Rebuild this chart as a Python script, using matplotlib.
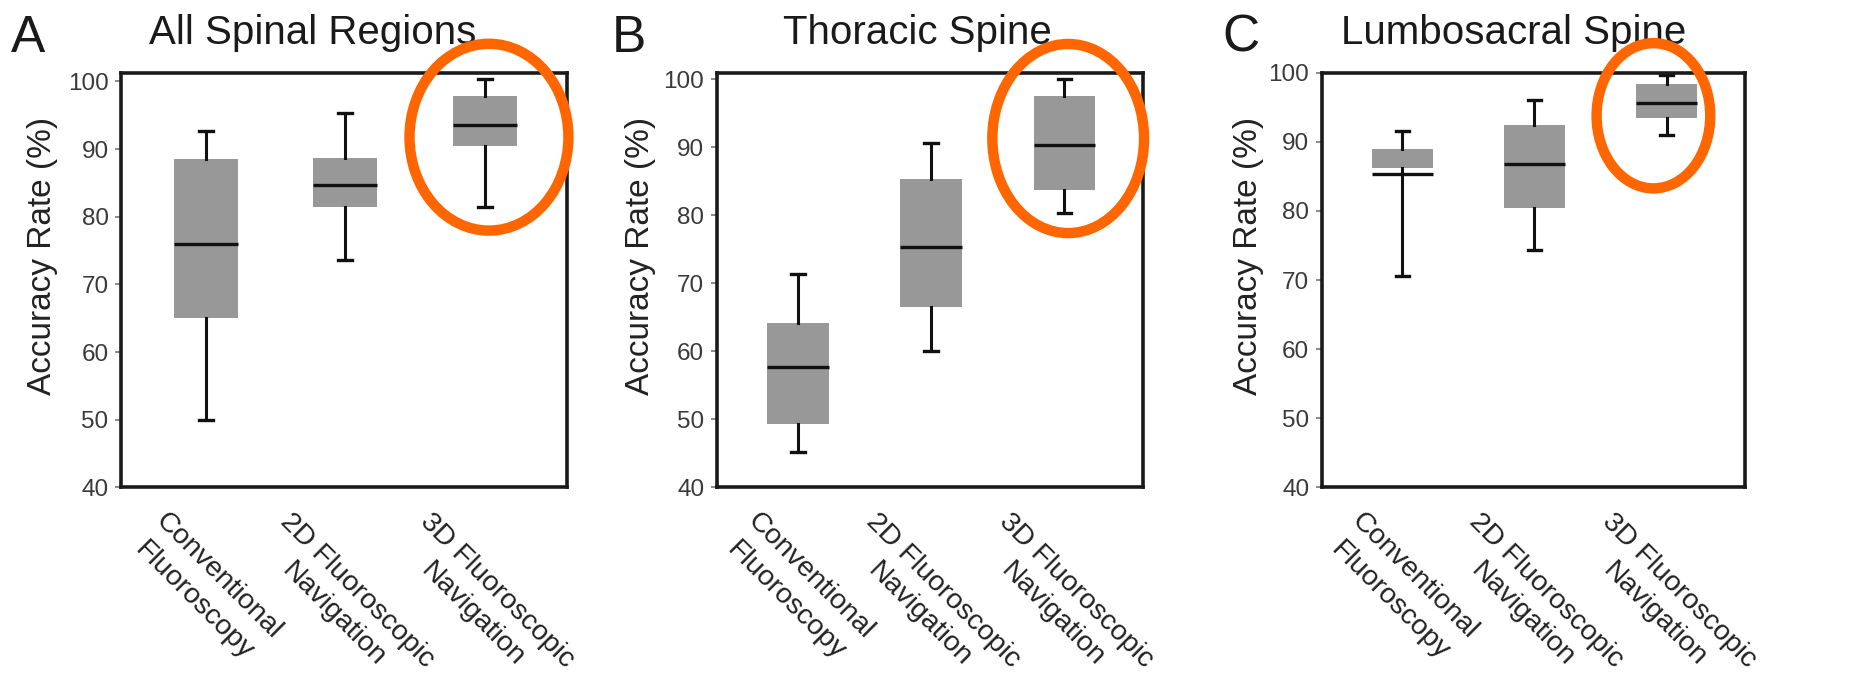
import matplotlib
matplotlib.use("Agg")
import matplotlib.pyplot as plt
from matplotlib.patches import Ellipse

plt.rcParams['font.family'] = ['Liberation Sans', 'DejaVu Sans']

# categories
groups = ["Conventional\nFluoroscopy", "2D Fluoroscopic\nNavigation", "3D Fluoroscopic\nNavigation"]
titles = ["All Spinal Regions", "Thoracic Spine", "Lumbosacral Spine"]
letters = ["A", "B", "C"]
yticks = [40, 50, 60, 70, 80, 90, 100]

# box statistics (accuracy rate, %)
all_whislo = [49.9, 73.6, 81.4]
all_q1 = [65.0, 81.5, 90.4]
all_med = [75.9, 84.7, 93.5]
all_q3 = [88.5, 88.7, 97.8]
all_whishi = [92.6, 95.3, 100.4]

tho_whislo = [45.2, 60.0, 80.3]
tho_q1 = [49.4, 66.5, 83.7]
tho_med = [57.7, 75.4, 90.3]
tho_q3 = [64.2, 85.4, 97.5]
tho_whishi = [71.4, 90.6, 100.0]

lum_whislo = [70.6, 74.4, 91.0]
lum_q1 = [86.2, 80.4, 93.4]
lum_med = [85.3, 86.8, 95.6]
lum_q3 = [88.9, 92.4, 98.4]
lum_whishi = [91.5, 96.0, 99.6]

panels = [
    (all_whislo, all_q1, all_med, all_q3, all_whishi),
    (tho_whislo, tho_q1, tho_med, tho_q3, tho_whishi),
    (lum_whislo, lum_q1, lum_med, lum_q3, lum_whishi),
]

fig = plt.figure(figsize=(18.56, 6.78), dpi=100)

# axes rectangles (figure fractions)
rects = [[0.0652, 0.281, 0.2403, 0.612],
         [0.3862, 0.281, 0.2295, 0.612],
         [0.7121, 0.281, 0.2279, 0.612]]
ytops = [101.3, 101.0, 100.0]
title_x = [0.429, 0.471, 0.455]
ylab_x = [-0.141, -0.142, -0.136]
letter_x = [11, 612, 1222]
# highlight ellipses: center x, center y, width, height (data units)
rings = [(3.03, 91.75, 1.14, 27.6), (3.03, 91.3, 1.14, 27.8), (2.9, 93.75, 0.86, 21.0)]

for i, (wlo, q1, med, q3, whi) in enumerate(panels):
    ax = fig.add_axes(rects[i])
    stats = []
    for j in range(len(groups)):
        stats.append({'whislo': wlo[j], 'q1': q1[j], 'med': med[j],
                      'q3': q3[j], 'whishi': whi[j], 'fliers': []})
    ax.bxp(stats, positions=[1, 2, 3], widths=0.46, capwidths=0.1,
           patch_artist=True, showfliers=False,
           boxprops=dict(facecolor='#989898', edgecolor='none', linewidth=0),
           medianprops=dict(color='#111111', linewidth=2.4),
           whiskerprops=dict(color='#111111', linewidth=2.2),
           capprops=dict(color='#111111', linewidth=2.4))
    ax.set_xlim(0.39, 3.59)
    ax.set_ylim(40, ytops[i])
    ax.set_yticks(yticks)
    ax.tick_params(axis='y', direction='out', length=4, width=1.2, color='#777777',
                   labelsize=17.5, labelcolor='#3a3a3a', pad=5)
    ax.set_xticks([1, 2, 3])
    ax.set_xticklabels(groups, rotation=-45, ha='center', va='top',
                       multialignment='center', linespacing=1.4)
    ax.tick_params(axis='x', length=0, labelsize=20.5, labelcolor='#222222', pad=15)
    for sp in ax.spines.values():
        sp.set_linewidth(2.6)
        sp.set_color('#1a1a1a')
    ax.set_ylabel("Accuracy Rate (%)", fontsize=24, color='#222222')
    ax.yaxis.set_label_coords(ylab_x[i], 0.557)
    ax.text(title_x[i], 1.068, titles[i], transform=ax.transAxes, ha='center',
            va='baseline', fontsize=29, color='#1a1a1a')
    fig.text(letter_x[i] / 1856, 1 - 52 / 678, letters[i], fontsize=37,
             color='#1a1a1a', ha='left', va='baseline')
    cx, cy, w, h = rings[i]
    ax.add_patch(Ellipse((cx, cy), w, h, fill=False, edgecolor='#FF6600',
                         linewidth=7.5, clip_on=False, zorder=10))

fig.savefig("out.png", dpi=100)
